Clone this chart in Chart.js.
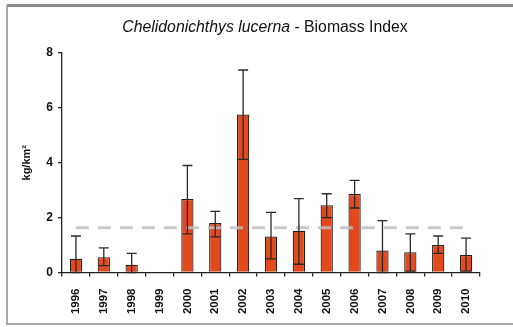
<!DOCTYPE html>
<html>
<head>
<meta charset="utf-8">
<script src="https://cdn.jsdelivr.net/npm/chart.js@4/dist/chart.umd.min.js"></script>
<style>
  html, body { margin: 0; padding: 0; background: #fff; }
  #wrap { width: 513px; height: 327px; position: relative; }
</style>
</head>
<body>
<div id="wrap"><canvas id="chart"></canvas></div>
<script>
// Data
const years = ['1996', '1997', '1998', '1999', '2000', '2001', '2002', '2003', '2004', '2005', '2006', '2007', '2008', '2009', '2010'];
const biomass = [0.5, 0.56, 0.28, null, 2.68, 1.8, 5.76, 1.31, 1.52, 2.45, 2.86, 0.8, 0.74, 1.0, 0.64];
const errUpper = [1.33, 0.9, 0.7, null, 3.9, 2.23, 7.38, 2.19, 2.69, 2.87, 3.36, 1.89, 1.41, 1.33, 1.25];
const errLower = [0, 0.25, 0, null, 1.41, 1.3, 4.12, 0.5, 0.3, 2.0, 2.35, 0, 0.05, 0.7, 0.05];
const meanLevel = [1.63, 1.63, 1.63, 1.63, 1.63, 1.63, 1.63, 1.63, 1.63, 1.63, 1.63, 1.63, 1.63, 1.63, 1.63];
const yTicks = [0, 2, 4, 6, 8];

const barColor = '#e2491c';
const fontFamily = '"Liberation Sans", Arial, sans-serif';

// Frame around the figure and the mixed-style title
const framePlugin = {
    id: 'frame',
    beforeDraw(chart) {
        const ctx = chart.ctx;
        ctx.save();
        ctx.fillStyle = '#fff';
        ctx.fillRect(0, 0, chart.width, chart.height);
        ctx.strokeStyle = '#8a8a8a';
        ctx.lineWidth = 3;
        ctx.beginPath();
        ctx.moveTo(7, 5.5);
        ctx.lineTo(chart.width, 5.5);
        ctx.stroke();
        ctx.strokeStyle = '#a8a8a8';
        ctx.lineWidth = 2;
        ctx.beginPath();
        ctx.moveTo(7, 5);
        ctx.lineTo(7, 324);
        ctx.lineTo(chart.width, 324);
        ctx.stroke();
        ctx.restore();
    },
    afterDraw(chart) {
        const ctx = chart.ctx;
        ctx.save();
        const partA = 'Chelidonichthys lucerna';
        const partB = ' - Biomass Index';
        ctx.fillStyle = '#111';
        ctx.textBaseline = 'middle';
        ctx.font = 'italic 15.8px ' + fontFamily;
        const wA = ctx.measureText(partA).width;
        ctx.font = '15.8px ' + fontFamily;
        const wB = ctx.measureText(partB).width;
        const x0 = 265 - (wA + wB) / 2;
        ctx.font = 'italic 15.8px ' + fontFamily;
        ctx.fillText(partA, x0, 28);
        ctx.font = '15.8px ' + fontFamily;
        ctx.fillText(partB, x0 + wA, 28);
        ctx.restore();
    }
};

// Error bars drawn through the chart scales
const errorBarPlugin = {
    id: 'errorBars',
    afterDatasetsDraw(chart) {
        const ctx = chart.ctx;
        const xScale = chart.scales.x;
        const yScale = chart.scales.y;
        ctx.save();
        ctx.strokeStyle = '#2a2a2a';
        ctx.lineWidth = 1.3;
        biomass.forEach((v, i) => {
            if (v === null) return;
            const x = xScale.getPixelForValue(i);
            const yHi = yScale.getPixelForValue(errUpper[i]);
            const yLo = yScale.getPixelForValue(errLower[i]);
            ctx.beginPath();
            ctx.moveTo(x, yLo);
            ctx.lineTo(x, yHi);
            ctx.moveTo(x - 5, yHi);
            ctx.lineTo(x + 5, yHi);
            ctx.moveTo(x - 5, yLo);
            ctx.lineTo(x + 5, yLo);
            ctx.stroke();
        });
        ctx.restore();
    }
};

const chart = new Chart(document.getElementById('chart'), {
    data: {
        labels: years,
        datasets: [
            {
                type: 'line',
                data: meanLevel,
                borderColor: 'rgba(190, 190, 190, 0.85)',
                borderWidth: 3,
                borderDash: [13, 9],
                pointRadius: 0,
                order: 0
            },
            {
                type: 'bar',
                data: biomass,
                backgroundColor: barColor,
                borderColor: '#2a1a14',
                borderWidth: 1.2,
                barPercentage: 0.44,
                categoryPercentage: 1,
                order: 1
            }
        ]
    },
    options: {
        responsive: true,
        maintainAspectRatio: false,
        animation: false,
        events: [],
        layout: { padding: { left: 0, right: 33, top: 53, bottom: 0 } },
        plugins: {
            legend: { display: false },
            tooltip: { enabled: false },
            title: { display: false }
        },
        scales: {
            x: {
                offset: true,
                grid: {
                    offset: true,
                    drawOnChartArea: false,
                    drawTicks: true,
                    tickLength: 4,
                    color: '#222',
                    lineWidth: 1.3
                },
                border: { color: '#222', width: 1.3 },
                ticks: {
                    minRotation: 90,
                    maxRotation: 90,
                    autoSkip: false,
                    padding: 12,
                    color: '#111',
                    font: { family: fontFamily, size: 11.5, weight: 'bold' }
                },
                afterFit(scale) { scale.height = 54.5; }
            },
            y: {
                min: 0,
                max: 8,
                grid: {
                    drawOnChartArea: false,
                    drawTicks: true,
                    tickLength: 4,
                    color: '#222',
                    lineWidth: 1.3
                },
                border: { color: '#222', width: 1.3 },
                afterBuildTicks(scale) { scale.ticks = yTicks.map(v => ({ value: v })); },
                ticks: {
                    padding: 5,
                    color: '#111',
                    font: { family: fontFamily, size: 12, weight: 'bold' }
                },
                title: {
                    display: true,
                    text: 'kg/km²',
                    color: '#111',
                    padding: { top: 20, bottom: 0 },
                    font: { family: fontFamily, size: 11, weight: 'bold' }
                },
                afterFit(scale) { scale.width = 62; }
            }
        }
    },
    plugins: [framePlugin, errorBarPlugin]
});
</script>
</body>
</html>
